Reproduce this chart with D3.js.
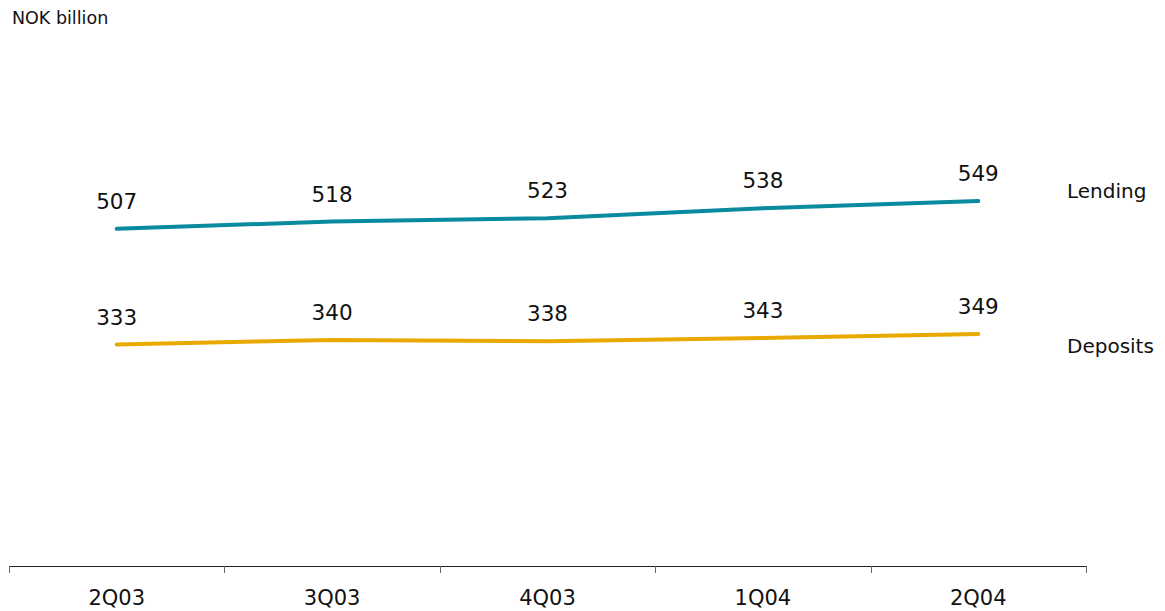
<!DOCTYPE html>
<html><head><meta charset="utf-8">
<script src="https://cdn.jsdelivr.net/npm/d3@7"></script>
<style>body{margin:0;background:#fff}svg{display:block}text{font-family:"DejaVu Sans",Verdana,sans-serif;fill:#111}</style>
</head><body><svg id="c" width="1165" height="611"></svg>
<script>
const categories = ["2Q03","3Q03","4Q03","1Q04","2Q04"];
const lending = [507,518,523,538,549];
const deposits = [333,340,338,343,349];
const seriesNames = ["Lending","Deposits"];
const unitLabel = "NOK billion";

const svg = d3.select("#c");
const x = d3.scaleBand().domain(categories).range([9,1086]);
const y = d3.scaleLinear().domain([0,800]).range([566,34]);
const cx = d => x(d) + x.bandwidth()/2;

svg.append("text").attr("x",12).attr("y",24).style("font-size","17.5px").text(unitLabel);

// axis
const ag = svg.append("g");
ag.append("line").attr("x1",9).attr("x2",1086).attr("y1",566.5).attr("y2",566.5).attr("stroke","#222").attr("stroke-width",1);
const ticks = categories.map(c => x(c)).concat([x(categories[categories.length-1])+x.bandwidth()]);
ag.selectAll("line.t").data(ticks).enter().append("line").attr("class","t")
  .attr("x1",d=>Math.round(d)+0.5).attr("x2",d=>Math.round(d)+0.5).attr("y1",566).attr("y2",573).attr("stroke","#666");
ag.selectAll("text").data(categories).enter().append("text")
  .attr("x",cx).attr("y",605).attr("text-anchor","middle").style("font-size","21px").text(d=>d);

const series = [
  {name:seriesNames[0], values:lending, color:"#0A8A9F", labelDy:-3},
  {name:seriesNames[1], values:deposits, color:"#E8AA00", labelDy:19}
];
const line = d3.line().x((d,i)=>cx(categories[i])).y(d=>y(d));
series.forEach(s=>{
  svg.append("path").attr("d",line(s.values)).attr("fill","none").attr("stroke",s.color)
    .attr("stroke-width",4).attr("stroke-linecap","round").attr("stroke-linejoin","round");
  svg.selectAll(null).data(s.values).enter().append("text")
    .attr("x",(d,i)=>cx(categories[i])).attr("y",d=>y(d)-20).attr("text-anchor","middle")
    .style("font-size","21.5px").text(d=>d);
  svg.append("text").attr("x",1067).attr("y",y(s.values[s.values.length-1])+s.labelDy)
    .style("font-size","20px").text(s.name);
});
</script></body></html>
